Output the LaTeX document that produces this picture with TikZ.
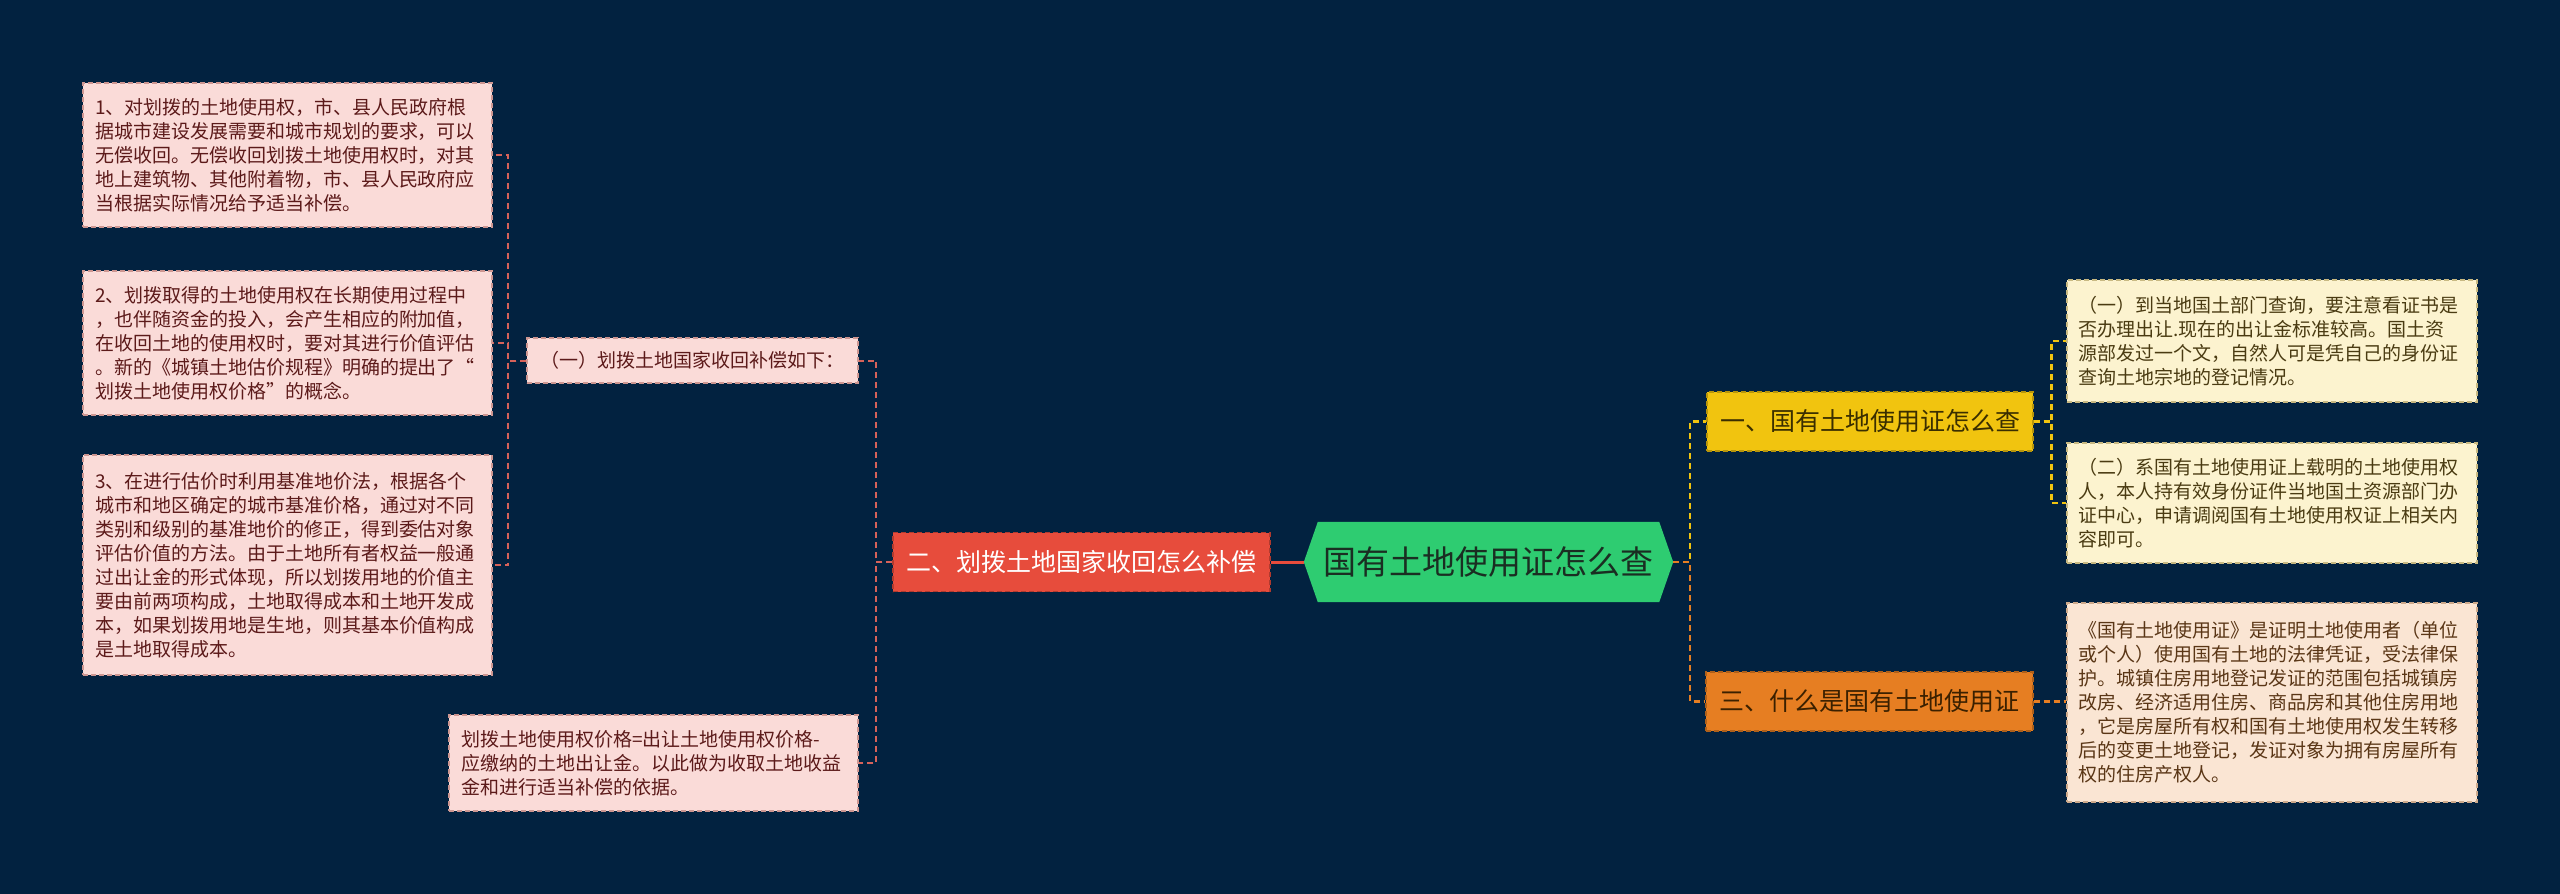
\documentclass[tikz,border=0pt]{standalone}
\usepackage{fontspec}
\setmainfont{Noto Sans CJK SC}
\definecolor{bgc}{RGB}{2,34,64}
\definecolor{pinkfill}{RGB}{250,219,216}
\definecolor{pinkline}{RGB}{205,150,145}
\definecolor{pinktext}{RGB}{92,26,26}
\definecolor{redfill}{RGB}{231,76,60}
\definecolor{redline}{RGB}{176,58,46}
\definecolor{lconc}{RGB}{214,98,90}
\definecolor{greenfill}{RGB}{46,204,113}
\definecolor{greentext}{RGB}{26,46,34}
\definecolor{yelfill}{RGB}{241,196,15}
\definecolor{yelline}{RGB}{183,149,11}
\definecolor{yeltext}{RGB}{58,46,0}
\definecolor{orfill}{RGB}{230,126,34}
\definecolor{orline}{RGB}{175,96,26}
\definecolor{ortext}{RGB}{58,32,0}
\definecolor{creamfill}{RGB}{252,243,207}
\definecolor{creamline}{RGB}{200,185,130}
\definecolor{creamtext}{RGB}{74,59,18}
\definecolor{peachfill}{RGB}{250,229,211}
\definecolor{peachline}{RGB}{205,170,140}
\definecolor{peachtext}{RGB}{90,54,22}
\newcommand{\mmsmall}{\fontsize{19}{24}\selectfont}
\newcommand{\mmmid}{\fontsize{25}{30}\selectfont}
\newcommand{\mmbig}{\fontsize{33}{40}\selectfont}
\pgfdeclarelayer{bg}
\pgfsetlayers{bg,main}
\tikzset{
  box/.style={rectangle, inner ysep=0pt, line width=1.2pt, dash pattern=on 5pt off 3pt},
  leftbox/.style={box, fill=pinkfill, draw=pinkline, text=pinktext, font=\mmsmall, align=left, inner xsep=12pt, text width=385pt, minimum width=409pt},
  yelsub/.style={box, fill=creamfill, draw=creamline, text=creamtext, font=\mmsmall, align=left, inner xsep=11pt, text width=388pt, minimum width=410pt},
  orsub/.style={box, fill=peachfill, draw=peachline, text=peachtext, font=\mmsmall, align=left, inner xsep=11pt, text width=388pt, minimum width=410pt},
  mainbox/.style={box, font=\mmmid, inner xsep=0pt, minimum height=59pt},
  lconn/.style={draw=lconc, line width=2pt, dash pattern=on 6pt off 4pt},
  yconn/.style={draw=yelfill, line width=2.5pt, dash pattern=on 6pt off 4pt},
  oconn/.style={draw=orfill, line width=2.5pt, dash pattern=on 6pt off 4pt},
}
\begin{document}
\begin{tikzpicture}[x=1pt,y=-1pt]
\begin{pgfonlayer}{bg}
\fill[bgc] (0,0) rectangle (2560,894);
\end{pgfonlayer}
\useasboundingbox (0,0) rectangle (2560,894);

% center
\node[font=\mmbig, text=greentext, minimum width=369pt, minimum height=80pt, inner sep=0pt] (center) at (1488.5,562) {国有土地使用证怎么查};
\begin{pgfonlayer}{bg}
\fill[greenfill] (center.west) -- ([xshift=14pt]center.north west) -- ([xshift=-14pt]center.north east) -- (center.east) -- ([xshift=-14pt]center.south east) -- ([xshift=14pt]center.south west) -- cycle;
\end{pgfonlayer}

% left branch
\node[mainbox, fill=redfill, draw=redline, text=white, minimum width=377pt] (red) at (1081.5,562) {二、划拨土地国家收回怎么补偿};
\node[box, fill=pinkfill, draw=pinkline, text=pinktext, font=\mmsmall, minimum width=331pt, minimum height=45pt, inner xsep=0pt] (s1) at (692.5,360.5) {（一）划拨土地国家收回补偿如下：};
\node[leftbox, minimum height=144pt] (l1) at (287.5,155) {1、对划拨的土地使用权，市、县人民政府根\\据城市建设发展需要和城市规划的要求，可以\\无偿收回。无偿收回划拨土地使用权时，对其\\地上建筑物、其他附着物，市、县人民政府应\\当根据实际情况给予适当补偿。};
\node[leftbox, minimum height=144pt] (l2) at (287.5,343) {2、划拨取得的土地使用权在长期使用过程中\\，也伴随资金的投入，会产生相应的附加值，\\在收回土地的使用权时，要对其进行价值评估\\。新的《城镇土地估价规程》明确的提出了“\\划拨土地使用权价格”的概念。};
\node[leftbox, minimum height=220pt] (l3) at (287.5,565) {3、在进行估价时利用基准地价法，根据各个\\城市和地区确定的城市基准价格，通过对不同\\类别和级别的基准地价的修正，得到委估对象\\评估价值的方法。由于土地所有者权益一般通\\过出让金的形式体现，所以划拨用地的价值主\\要由前两项构成，土地取得成本和土地开发成\\本，如果划拨用地是生地，则其基本价值构成\\是土地取得成本。};
\node[leftbox, minimum height=96pt] (l4) at (653.5,763) {划拨土地使用权价格=出让土地使用权价格-\\应缴纳的土地出让金。以此做为收取土地收益\\金和进行适当补偿的依据。};

% right branch
\node[mainbox, fill=yelfill, draw=yelline, text=yeltext, minimum width=326pt] (yel) at (1870,421.5) {一、国有土地使用证怎么查};
\node[mainbox, fill=orfill, draw=orline, text=ortext, minimum width=327pt] (ora) at (1869.5,701.5) {三、什么是国有土地使用证};
\node[yelsub, minimum height=122pt] (r1) at (2272,341) {（一）到当地国土部门查询，要注意看证书是\\否办理出让.现在的出让金标准较高。国土资\\源部发过一个文，自然人可是凭自己的身份证\\查询土地宗地的登记情况。};
\node[yelsub, minimum height=120pt] (r2) at (2272,503) {（二）系国有土地使用证上载明的土地使用权\\人，本人持有效身份证件当地国土资源部门办\\证中心，申请调阅国有土地使用权证上相关内\\容即可。};
\node[orsub, minimum height=199pt] (r3) at (2272,702.5) {《国有土地使用证》是证明土地使用者（单位\\或个人）使用国有土地的法律凭证，受法律保\\护。城镇住房用地登记发证的范围包括城镇房\\改房、经济适用住房、商品房和其他住房用地\\，它是房屋所有权和国有土地使用权发生转移\\后的变更土地登记，发证对象为拥有房屋所有\\权的住房产权人。};

% connectors
\draw[draw=redfill, line width=3pt] (center.west) -- (red.east);
\draw[lconn] (red.west) -- ++(-16,0) |- (s1.east);
\draw[lconn] (red.west) -- ++(-16,0) |- (l4.east);
\draw[lconn] (s1.west) -- ++(-18,0) |- (l1.east);
\draw[lconn] (s1.west) -- ++(-18,0) |- (l2.east);
\draw[lconn] (s1.west) -- ++(-18,0) |- (l3.east);
\draw[yconn] (center.east) -- ++(17,0) |- (yel.west);
\draw[oconn] (center.east) -- ++(17,0) |- (ora.west);
\draw[yconn] (yel.east) -- ++(18,0) |- (r1.west);
\draw[yconn] (yel.east) -- ++(18,0) |- (r2.west);
\draw[oconn] (ora.east) -- (ora.east -| r3.west);
\end{tikzpicture}
\end{document}
